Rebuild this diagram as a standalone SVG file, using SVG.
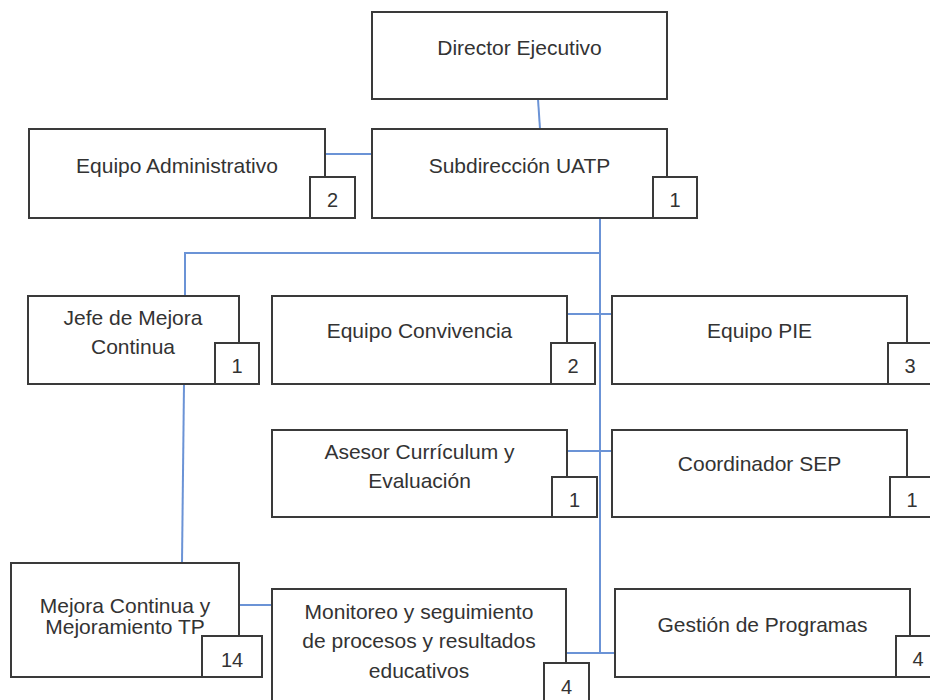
<svg xmlns="http://www.w3.org/2000/svg" width="930" height="700" viewBox="0 0 930 700">
<style>
.box{fill:#fff;stroke:#3a3a3a;stroke-width:2}
.badge{fill:#fff;stroke:#3a3a3a;stroke-width:2}
.t{font-family:"Liberation Sans",Arial,sans-serif;font-size:21px;fill:#333;text-anchor:middle}
.n{font-family:"Liberation Sans",Arial,sans-serif;font-size:20px;fill:#333;text-anchor:middle}
.c{stroke:#6b93d6;stroke-width:2;fill:none}
</style>
<rect width="930" height="700" fill="#fff"/>
<g id="connectors">
<line class="c" x1="538" y1="99" x2="540" y2="129"/>
<line class="c" x1="325" y1="154" x2="372" y2="154"/>
<line class="c" x1="600" y1="218" x2="600" y2="653"/>
<polyline class="c" points="600,253 185,253 185,296"/>
<line class="c" x1="184" y1="384" x2="182" y2="563"/>
<line class="c" x1="567" y1="314" x2="612" y2="314"/>
<line class="c" x1="567" y1="451" x2="612" y2="451"/>
<line class="c" x1="239" y1="605" x2="272" y2="605"/>
<line class="c" x1="566" y1="653" x2="615" y2="653"/>
</g>
<g id="director">
<rect class="box" x="372" y="12" width="295" height="87"/>
<text class="t" x="519.5" y="55">Director Ejecutivo</text>
</g>
<g id="admin">
<rect class="box" x="29" y="129" width="296" height="89"/>
<text class="t" x="177" y="173">Equipo Administrativo</text>
<rect class="badge" x="310" y="177" width="45" height="41"/>
<text class="n" x="332.5" y="207">2</text>
</g>
<g id="subdireccion">
<rect class="box" x="372" y="129" width="295" height="89"/>
<text class="t" x="519.5" y="173">Subdirección UATP</text>
<rect class="badge" x="653" y="177" width="44" height="41"/>
<text class="n" x="675" y="207">1</text>
</g>
<g id="jefe">
<rect class="box" x="28" y="296" width="211" height="88"/>
<text class="t" x="133" y="325">Jefe de Mejora</text>
<text class="t" x="133" y="354">Continua</text>
<rect class="badge" x="215" y="343" width="44" height="41"/>
<text class="n" x="237" y="373">1</text>
</g>
<g id="convivencia">
<rect class="box" x="272" y="296" width="295" height="88"/>
<text class="t" x="419.5" y="338">Equipo Convivencia</text>
<rect class="badge" x="551" y="343" width="44" height="41"/>
<text class="n" x="573" y="373">2</text>
</g>
<g id="pie">
<rect class="box" x="612" y="296" width="295" height="88"/>
<text class="t" x="759.5" y="338">Equipo PIE</text>
<rect class="badge" x="888" y="343" width="44" height="41"/>
<text class="n" x="910" y="373">3</text>
</g>
<g id="asesor">
<rect class="box" x="272" y="430" width="295" height="87"/>
<text class="t" x="419.5" y="459">Asesor Currículum y</text>
<text class="t" x="419.5" y="488">Evaluación</text>
<rect class="badge" x="552" y="477" width="45" height="40"/>
<text class="n" x="574.5" y="507">1</text>
</g>
<g id="sep">
<rect class="box" x="612" y="430" width="295" height="87"/>
<text class="t" x="759.5" y="471">Coordinador SEP</text>
<rect class="badge" x="890" y="477" width="44" height="40"/>
<text class="n" x="912" y="507">1</text>
</g>
<g id="mejora">
<rect class="box" x="11" y="563" width="228" height="114"/>
<text class="t" x="125" y="613">Mejora Continua y</text>
<text class="t" x="125" y="634">Mejoramiento TP</text>
<rect class="badge" x="202" y="636" width="60" height="41"/>
<text class="n" x="232" y="667">14</text>
</g>
<g id="monitoreo">
<rect class="box" x="272" y="589" width="294" height="125"/>
<text class="t" x="419" y="619">Monitoreo y seguimiento</text>
<text class="t" x="419" y="648">de procesos y resultados</text>
<text class="t" x="419" y="678">educativos</text>
<rect class="badge" x="544" y="663" width="45" height="50"/>
<text class="n" x="566.5" y="694">4</text>
</g>
<g id="gestion">
<rect class="box" x="615" y="589" width="295" height="88"/>
<text class="t" x="762.5" y="632">Gestión de Programas</text>
<rect class="badge" x="896" y="636" width="44" height="41"/>
<text class="n" x="918" y="666">4</text>
</g>
</svg>
